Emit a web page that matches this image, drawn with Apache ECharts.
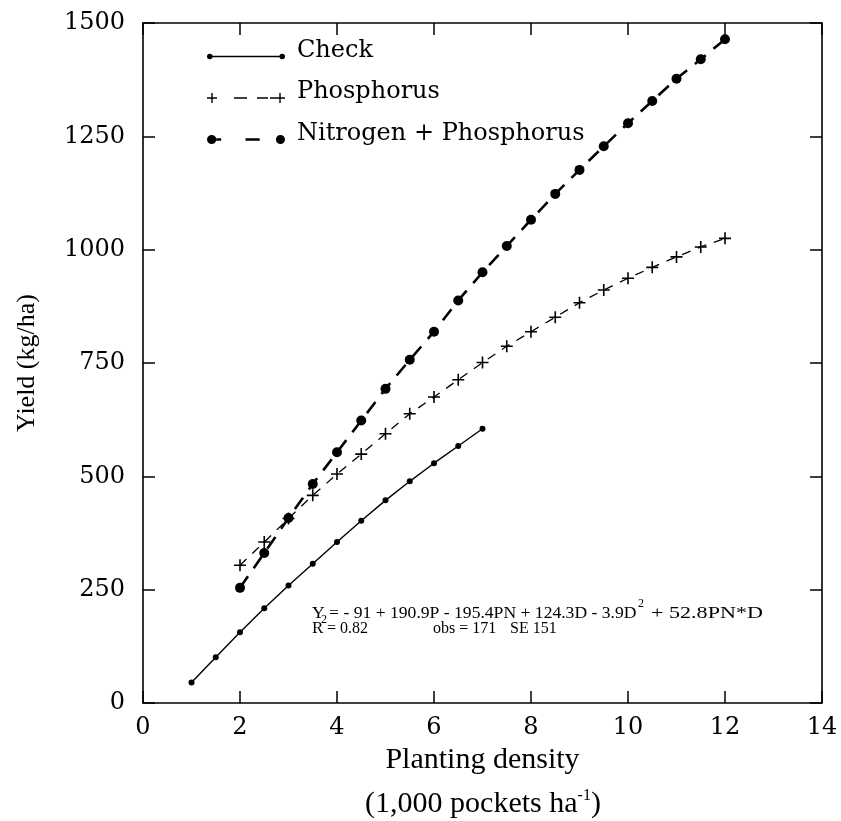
<!DOCTYPE html>
<html>
<head>
<meta charset="utf-8">
<script src="https://cdn.jsdelivr.net/npm/echarts@6/dist/echarts.min.js"></script>
<style>
html,body{margin:0;padding:0;background:#fff;}
#chart{width:841px;height:821px;}
</style>
</head>
<body>
<div id="chart"></div>
<script>
// ---- data ----
var checkX = [1, 1.5, 2, 2.5, 3, 3.5, 4, 4.5, 5, 5.5, 6, 6.5, 7];
var checkY = [45, 101, 156, 209, 259, 307, 355, 402, 447, 489, 529, 567, 605];
var phosX = [2, 2.5, 3, 3.5, 4, 4.5, 5, 5.5, 6, 6.5, 7, 7.5, 8, 8.5, 9, 9.5, 10, 10.5, 11, 11.5, 12];
var phosY = [304, 355, 407, 458, 505, 549, 594, 638, 675, 713, 751, 787, 819, 851, 883, 911, 937, 961, 984, 1006, 1025];
var npX = [2, 2.5, 3, 3.5, 4, 4.5, 5, 5.5, 6, 6.5, 7, 7.5, 8, 8.5, 9, 9.5, 10, 10.5, 11, 11.5, 12];
var npY = [254, 331, 408, 483, 553, 623, 693, 757, 819, 888, 950, 1008, 1066, 1123, 1176, 1228, 1279, 1328, 1377, 1420, 1464];
var seriesNames = ['Check', 'Phosphorus', 'Nitrogen + Phosphorus'];
var xTicks = {min: 0, max: 14, step: 2};
var yTicks = {min: 0, max: 1500, step: 250};
var xTitle = 'Planting density';
var xSubTitle = '(1,000 pockets ha';
var yTitle = 'Yield (kg/ha)';

function pairs(xs, ys) { return xs.map(function (x, i) { return [x, ys[i]]; }); }

var plusPath = 'path://M0,5.2 L12,5.2 L12,6.8 L0,6.8 Z M5.2,0 L6.8,0 L6.8,12 L5.2,12 Z';

// legend icons: visible sample sits in the lower part of a 78x28 box
// (tiny invisible corner specks fix the bounding box)
var specks = ' M0,0 L0.01,0 L0.01,0.01 L0,0.01 Z M0,27.99 L0.01,27.99 L0.01,28 L0,28 Z';
var iconCheck = 'path://M0,20 A2.8,2.8 0 1,0 5.6,20 A2.8,2.8 0 1,0 0,20 Z M5.6,19.2 L72.4,19.2 L72.4,20.8 L5.6,20.8 Z M72.4,20 A2.8,2.8 0 1,0 78,20 A2.8,2.8 0 1,0 72.4,20 Z' + specks;
var iconPhos = 'path://M0,19.3 L10,19.3 L10,20.7 L0,20.7 Z M4.3,15 L5.7,15 L5.7,25 L4.3,25 Z M27,19.3 L40,19.3 L40,20.7 L27,20.7 Z M50,19.3 L61,19.3 L61,20.7 L50,20.7 Z M63,19.3 L78,19.3 L78,20.7 L63,20.7 Z M72.3,15 L73.7,15 L73.7,25 L72.3,25 Z' + specks;
var iconNP = 'path://M0,20 A4.6,4.6 0 1,0 9.2,20 A4.6,4.6 0 1,0 0,20 Z M9,18.7 L14,18.7 L14,21.3 L9,21.3 Z M38,18.8 L52,18.8 L52,21.2 L38,21.2 Z M68,20 A4.5,4.5 0 1,0 77,20 A4.5,4.5 0 1,0 68,20 Z' + specks;

var chart = echarts.init(document.getElementById('chart'), null, {renderer: 'canvas'});

var serif = 'DejaVu Serif';
var times = 'Liberation Serif';

function eqText(x, y, txt, size, sx) {
  return {
    type: 'text', x: x, y: y, scaleX: sx || 1, silent: true,
    style: {text: txt, fontFamily: times, fontSize: size || 15, fill: '#000', align: 'left', verticalAlign: 'middle'}
  };
}

var option = {
  backgroundColor: '#fff',
  animation: false,
  grid: {left: 143, right: 19, top: 23, bottom: 118, containLabel: false},
  legend: {
    orient: 'vertical',
    left: 207,
    top: 36.5,
    padding: 0,
    itemGap: 13.5,
    itemWidth: 78,
    itemHeight: 28,
    symbolKeepAspect: false,
    selectedMode: false,
    textStyle: {fontFamily: serif, fontSize: 24, color: '#000', padding: [0, 0, 0, 7]},
    data: [
      {name: seriesNames[0], icon: iconCheck},
      {name: seriesNames[1], icon: iconPhos},
      {name: seriesNames[2], icon: iconNP}
    ]
  },
  xAxis: [{
    type: 'value', position: 'bottom',
    min: xTicks.min, max: xTicks.max, interval: xTicks.step,
    axisLine: {show: true, lineStyle: {color: '#000', width: 1.6}},
    axisTick: {show: true, inside: true, length: 12, lineStyle: {color: '#000', width: 1.5}},
    axisLabel: {margin: 13, fontFamily: serif, fontSize: 24, color: '#000', formatter: function (v) { return String(v); }},
    splitLine: {show: false},
    name: xTitle, nameLocation: 'middle', nameGap: 40,
    nameTextStyle: {fontFamily: times, fontSize: 30, color: '#000'}
  }, {
    type: 'value', position: 'top',
    min: xTicks.min, max: xTicks.max, interval: xTicks.step,
    axisLine: {show: true, onZero: false, lineStyle: {color: '#000', width: 1.6}},
    axisTick: {show: true, inside: true, length: 12, lineStyle: {color: '#000', width: 1.5}},
    axisLabel: {show: false},
    splitLine: {show: false}
  }],
  yAxis: [{
    type: 'value', position: 'left',
    min: yTicks.min, max: yTicks.max, interval: yTicks.step,
    axisLine: {show: true, lineStyle: {color: '#000', width: 1.6}},
    axisTick: {show: true, inside: true, length: 12, lineStyle: {color: '#000', width: 1.5}},
    axisLabel: {margin: 18, fontFamily: serif, fontSize: 24, color: '#000', formatter: function (v) { return String(v); }},
    splitLine: {show: false},
    name: yTitle, nameLocation: 'middle', nameGap: 103, nameRotate: 90,
    nameTextStyle: {fontFamily: times, fontSize: 26, color: '#000'}
  }, {
    type: 'value', position: 'right',
    min: yTicks.min, max: yTicks.max, interval: yTicks.step,
    axisLine: {show: true, onZero: false, lineStyle: {color: '#000', width: 1.6}},
    axisTick: {show: true, inside: true, length: 12, lineStyle: {color: '#000', width: 1.5}},
    axisLabel: {show: false},
    splitLine: {show: false}
  }],
  series: [{
    name: seriesNames[0], type: 'line', data: pairs(checkX, checkY),
    symbol: 'circle', symbolSize: 6, showSymbol: true,
    lineStyle: {color: '#000', width: 1.4, type: 'solid'},
    itemStyle: {color: '#000'}, z: 3
  }, {
    name: seriesNames[1], type: 'line', data: pairs(phosX, phosY),
    symbol: plusPath, symbolSize: 12, showSymbol: true,
    lineStyle: {color: '#000', width: 1.3, type: [9, 8]},
    itemStyle: {color: '#000'}, z: 3
  }, {
    name: seriesNames[2], type: 'line', data: pairs(npX, npY),
    symbol: 'circle', symbolSize: 10, showSymbol: true,
    lineStyle: {color: '#000', width: 2.6, type: [14, 10]},
    itemStyle: {color: '#000'}, z: 4
  }],
  graphic: [
    {
      type: 'text', x: 483, y: 804, silent: true,
      style: {
        text: '{a|' + xSubTitle + '}{s|-1}{a|)}',
        align: 'center', verticalAlign: 'middle',
        rich: {
          a: {fontFamily: times, fontSize: 30, fill: '#000'},
          s: {fontFamily: times, fontSize: 16, fill: '#000', padding: [0, 0, 16, 0]}
        }
      }
    },
    eqText(312, 614, 'Y = - 91 + 190.9P - 195.4PN + 124.3D - 3.9D', 17, 1.035),
    eqText(638, 604, '2', 12),
    eqText(651, 614, '+ 52.8PN*D', 17, 1.3),
    eqText(312, 629, 'R', 17),
    eqText(321, 620, '2', 12),
    eqText(327, 629, '= 0.82', 16),
    eqText(433, 629, 'obs = 171', 16),
    eqText(510, 629, 'SE 151', 16)
  ]
};
chart.setOption(option);
</script>
</body>
</html>
